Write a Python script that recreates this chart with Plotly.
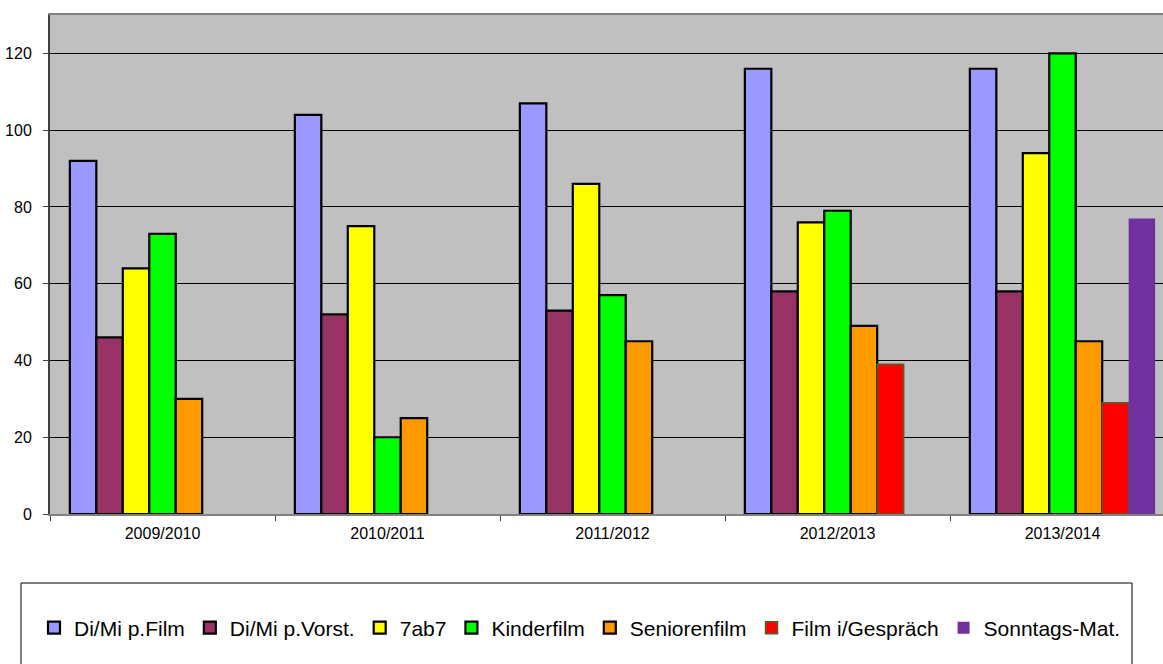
import plotly.graph_objects as go

seasons = ["2009/2010", "2010/2011", "2011/2012", "2012/2013", "2013/2014"]
series_names = ["Di/Mi p.Film", "Di/Mi p.Vorst.", "7ab7", "Kinderfilm",
                "Seniorenfilm", "Film i/Gespräch", "Sonntags-Mat."]
di_mi_film = [92, 104, 107, 116, 116]
di_mi_vorst = [46, 52, 53, 58, 58]
sieben_ab_sieben = [64, 75, 86, 76, 94]
kinderfilm = [73, 20, 57, 79, 120]
seniorenfilm = [30, 25, 45, 49, 45]
film_gespraech = [None, None, None, 39, 29]
sonntags_mat = [None, None, None, None, 77]
y_ticks = [0, 20, 40, 60, 80, 100, 120]

values = [di_mi_film, di_mi_vorst, sieben_ab_sieben, kinderfilm,
          seniorenfilm, film_gespraech, sonntags_mat]
colors = ["#9999FF", "#993366", "#FFFF00", "#00FF00", "#FF9900", "#FF0000", "#7030A0"]
line_colors = ["#000000"] * 5 + ["#4F6228", "#7030A0"]
line_widths = [2.2, 2.2, 2.2, 2.2, 2.2, 1.5, 0]

FONT = "Arial, Liberation Sans, sans-serif"

fig = go.Figure()
for name, vals, c, lc, lw in zip(series_names, values, colors, line_colors, line_widths):
    fig.add_trace(go.Bar(
        x=seasons, y=vals, name=name,
        marker=dict(color=c, line=dict(color=lc, width=lw)),
    ))

W, H = 1163, 664
ml, mt, mb, mr = 50, 15, 150, 0
pw = W - ml - mr
ph = H - mt - mb
cat_px = 225.0
x_range = [-0.5, -0.5 + pw / cat_px]

def px_x(x):
    return (x - ml) / pw

def px_y(y):
    return (H - mb - y) / ph

fig.update_layout(
    width=W, height=H,
    margin=dict(l=ml, r=mr, t=mt, b=mb, pad=0),
    paper_bgcolor="white",
    plot_bgcolor="#C0C0C0",
    barmode="group",
    bargap=0.1765,
    bargroupgap=0,
    font=dict(family=FONT, size=16, color="#000000"),
    showlegend=True,
    legend=dict(
        orientation="h",
        x=px_x(580), xanchor="center",
        y=px_y(628), yanchor="middle",
        font=dict(family=FONT, size=21, color="#000000"),
        bgcolor="rgba(0,0,0,0)",
        borderwidth=0,
        traceorder="normal",
    ),
    xaxis=dict(
        type="category",
        range=x_range,
        showgrid=False,
        showline=True, linecolor="#808080", linewidth=2, mirror=True,
        ticks="outside", tickson="boundaries", ticklen=5, tickcolor="#404040",
        ticklabelstandoff=4,
        tickfont=dict(family=FONT, size=16, color="#000000"),
        zeroline=False,
    ),
    yaxis=dict(
        range=[0, 130],
        tickvals=y_ticks,
        showgrid=True, gridcolor="#000000", gridwidth=1,
        showline=True, linecolor="#404040", linewidth=2,
        ticks="outside", ticklen=5, tickcolor="#404040",
        ticklabelstandoff=8,
        tickfont=dict(family=FONT, size=16, color="#000000"),
        zeroline=False,
    ),
    shapes=[dict(
        type="rect", xref="paper", yref="paper",
        x0=px_x(21), x1=px_x(1132), y0=px_y(583), y1=px_y(680),
        line=dict(color="#000000", width=1), fillcolor="white", layer="below",
    )],
)

fig.write_html(
    "out.html",
    config={"displayModeBar": False},
    post_script="document.body.style.margin='0px';document.body.style.overflow='hidden';",
)
